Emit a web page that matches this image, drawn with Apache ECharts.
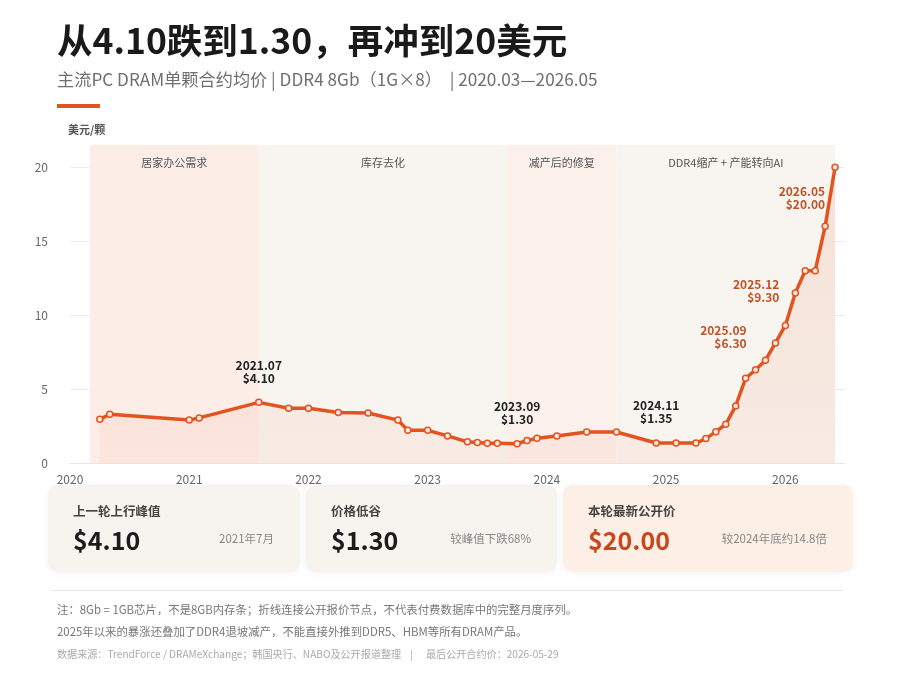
<!DOCTYPE html>
<html>
<head>
<meta charset="utf-8">
<script src="https://cdn.jsdelivr.net/npm/echarts@6/dist/echarts.min.js"></script>
<style>
html,body{margin:0;padding:0;background:#fff;}
#main{width:900px;height:675px;}
</style>
</head>
<body>
<div id="main"></div>
<script>
// ---- data ----
const months = ["2020.03","2020.04","2020.12","2021.01","2021.07","2021.10","2021.12","2022.03","2022.06","2022.09","2022.10","2022.12","2023.02","2023.04","2023.05","2023.06","2023.07","2023.09","2023.10","2023.11","2024.01","2024.04","2024.07","2024.11","2025.01","2025.03","2025.04","2025.05","2025.06","2025.07","2025.08","2025.09","2025.10","2025.11","2025.12","2026.01","2026.02","2026.03","2026.04","2026.05"];
const prices = [2.95,3.30,2.90,3.05,4.10,3.70,3.70,3.42,3.38,2.90,2.21,2.21,1.83,1.43,1.39,1.34,1.34,1.30,1.52,1.67,1.83,2.10,2.10,1.35,1.35,1.35,1.65,2.12,2.62,3.86,5.73,6.30,6.95,8.12,9.30,11.50,13.00,13.00,16.00,20.00];
const phaseNames = ["居家办公需求","库存去化","减产后的修复","DDR4缩产 + 产能转向AI"];
const phaseEdges = ["2020.02","2021.07","2023.08","2024.07","2026.05"];
const annotated = ["2021.07","2023.09","2024.11","2025.09","2025.12","2026.05"];
const yTicks = [0,5,10,15,20];
const xYears = [2020,2021,2022,2023,2024,2025,2026];

// ---- helpers ----
const FONT = "'Noto Sans CJK SC','Noto Sans',sans-serif";
function toYear(s){const p=s.split('.');return (+p[0]) + (+p[1])/12;}
const ORANGE = '#e2531f';
const phaseColors = ['#fcede7','#f8f4ef','#fcf0eb','#f8f4ef'];
const annoStyle = [
  {position:'top', align:'center', color:'#222', distance:14, offset:[0,0]},
  {position:'top', align:'center', color:'#222', distance:14, offset:[0,0]},
  {position:'top', align:'center', color:'#222', distance:14, offset:[0,0]},
  {position:'top', align:'right', color:'#c0532a', distance:16, offset:[-9,0]},
  {position:'top', align:'right', color:'#c0532a', distance:18, offset:[-6,0]},
  {position:'bottom', align:'right', color:'#c0532a', distance:14, offset:[-10,0]}
];

const seriesData = months.map((m,i)=>{
  const item = {value:[toYear(m), prices[i]]};
  const k = annotated.indexOf(m);
  if (k >= 0) {
    const st = annoStyle[k];
    item.label = {
      show:true, position:st.position, align:st.align, distance:st.distance, offset:st.offset,
      formatter: m + '\n$' + prices[i].toFixed(2),
      color:st.color, fontSize:12, fontWeight:'bold', lineHeight:13, fontFamily:FONT
    };
  }
  return item;
});

const markAreaData = phaseNames.map((n,i)=>[
  {name:n, xAxis: toYear(phaseEdges[i]), itemStyle:{color:phaseColors[i]}},
  {xAxis: toYear(phaseEdges[i+1])}
]);

// card values derived from data
const peakIdx = months.indexOf("2021.07");
const troughIdx = months.indexOf("2023.09");
const lateIdx = months.indexOf("2024.11");
const lastIdx = months.length - 1;
const peak = prices[peakIdx], trough = prices[troughIdx], latest = prices[lastIdx];
const dropPct = Math.round((1 - trough/peak)*100);
const ratio = (latest / prices[lateIdx]).toFixed(1);
const peakDate = months[peakIdx].split('.');
const peakDateText = peakDate[0] + '年' + (+peakDate[1]) + '月';
const lateYear = months[lateIdx].split('.')[0];

function card(x,w,fill,title,value,valueColor,note){
  return [
    {type:'rect', shape:{x:x,y:485,width:w,height:87,r:10}, style:{fill:fill, shadowBlur:8, shadowColor:'rgba(0,0,0,0.05)', shadowOffsetY:1}, z:1},
    {type:'text', x:x+25, y:511, style:{text:title, font:'bold 12.5px '+FONT, fill:'#444', verticalAlign:'middle'}, z:2},
    {type:'text', x:x+25, y:540, style:{text:value, font:'bold 25px '+FONT, fill:valueColor, verticalAlign:'middle'}, z:2},
    {type:'text', x:x+w-26, y:539, style:{text:note, font:'11.5px '+FONT, fill:'#888', align:'right', verticalAlign:'middle'}, z:2}
  ];
}

const graphics = [].concat(
  [
    {type:'text', x:57, y:41, style:{text:'从4.10跌到1.30，再冲到20美元', font:'bold 35.5px '+FONT, fill:'#1a1a1a', verticalAlign:'middle'}},
    {type:'text', x:57, y:79, style:{text:'主流PC DRAM单颗合约均价 | DDR4 8Gb（1G×8）  | 2020.03—2026.05', font:'17.2px '+FONT, fill:'#6f6f6f', verticalAlign:'middle'}},
    {type:'rect', shape:{x:57,y:104,width:43,height:4}, style:{fill:ORANGE}},
    {type:'text', x:68, y:130, style:{text:'美元/颗', font:'bold 11px '+FONT, fill:'#555', verticalAlign:'middle'}}
  ],
  card(48,252,'#f7f4f0','上一轮上行峰值','$'+peak.toFixed(2),'#1c1c1c',peakDateText),
  card(306,251,'#f7f4f0','价格低谷','$'+trough.toFixed(2),'#1c1c1c','较峰值下跌'+dropPct+'%'),
  card(563,290,'#fdeee6','本轮最新公开价','$'+latest.toFixed(2),'#c8481c','较'+lateYear+'年底约'+ratio+'倍'),
  [
    {type:'rect', shape:{x:50,y:590,width:793,height:1}, style:{fill:'#e8e8e8'}},
    {type:'text', x:57, y:610, style:{text:'注：8Gb = 1GB芯片，不是8GB内存条；折线连接公开报价节点，不代表付费数据库中的完整月度序列。', font:'11.4px '+FONT, fill:'#777', verticalAlign:'middle'}},
    {type:'text', x:57, y:632, style:{text:'2025年以来的暴涨还叠加了DDR4退坡减产，不能直接外推到DDR5、HBM等所有DRAM产品。', font:'11.4px '+FONT, fill:'#777', verticalAlign:'middle'}},
    {type:'text', x:57, y:654, style:{text:'数据来源：TrendForce / DRAMeXchange；韩国央行、NABO及公开报道整理', font:'10.1px '+FONT, fill:'#aaa', verticalAlign:'middle'}},
    {type:'text', x:410, y:654, style:{text:'|', font:'10.1px '+FONT, fill:'#aaa', verticalAlign:'middle'}},
    {type:'text', x:426, y:654, style:{text:'最后公开合约价：2026-05-29', font:'10.1px '+FONT, fill:'#aaa', verticalAlign:'middle'}}
  ]
);

const chart = echarts.init(document.getElementById('main'), null, {renderer:'canvas'});
chart.setOption({
  backgroundColor:'#ffffff',
  animation:false,
  textStyle:{fontFamily:FONT},
  grid:{left:70, right:55, top:145, bottom:212},
  xAxis:{
    type:'value', min:xYears[0], max:xYears[xYears.length-1]+0.5, interval:1,
    axisLine:{show:true, lineStyle:{color:'#e6e6e6'}},
    axisTick:{show:false},
    splitLine:{show:false},
    axisLabel:{color:'#666', fontSize:12, margin:10, fontFamily:FONT,
      formatter:function(v){return xYears.indexOf(Math.round(v))>=0 && Math.abs(v-Math.round(v))<1e-6 ? String(Math.round(v)) : '';}}
  },
  yAxis:{
    type:'value', min:yTicks[0], max:21.5, interval:5,
    axisLine:{show:false}, axisTick:{show:false},
    splitLine:{show:true, lineStyle:{color:['#ebebeb','#ebebeb','#ebebeb','#ebebeb','#ebebeb','rgba(0,0,0,0)'], width:1}},
    axisLabel:{color:'#666', fontSize:12, margin:22, fontFamily:FONT,
      formatter:function(v){return yTicks.indexOf(v)>=0 ? String(v) : '';}}
  },
  series:[{
    type:'line',
    data:seriesData,
    symbol:'circle', symbolSize:6,
    lineStyle:{color:ORANGE, width:3.5},
    itemStyle:{color:'#fbe9e1', borderColor:ORANGE, borderWidth:1.5},
    areaStyle:{color:new echarts.graphic.LinearGradient(0,0,0,1,[
      {offset:0, color:'rgba(226,83,31,0.17)'},
      {offset:1, color:'rgba(226,83,31,0.08)'}
    ])},
    emphasis:{disabled:true},
    z:3,
    markArea:{
      silent:true,
      label:{show:true, position:'insideTop', distance:12, color:'#555', fontSize:11, fontFamily:FONT},
      data:markAreaData
    }
  }],
  graphic:graphics
});
</script>
</body>
</html>
